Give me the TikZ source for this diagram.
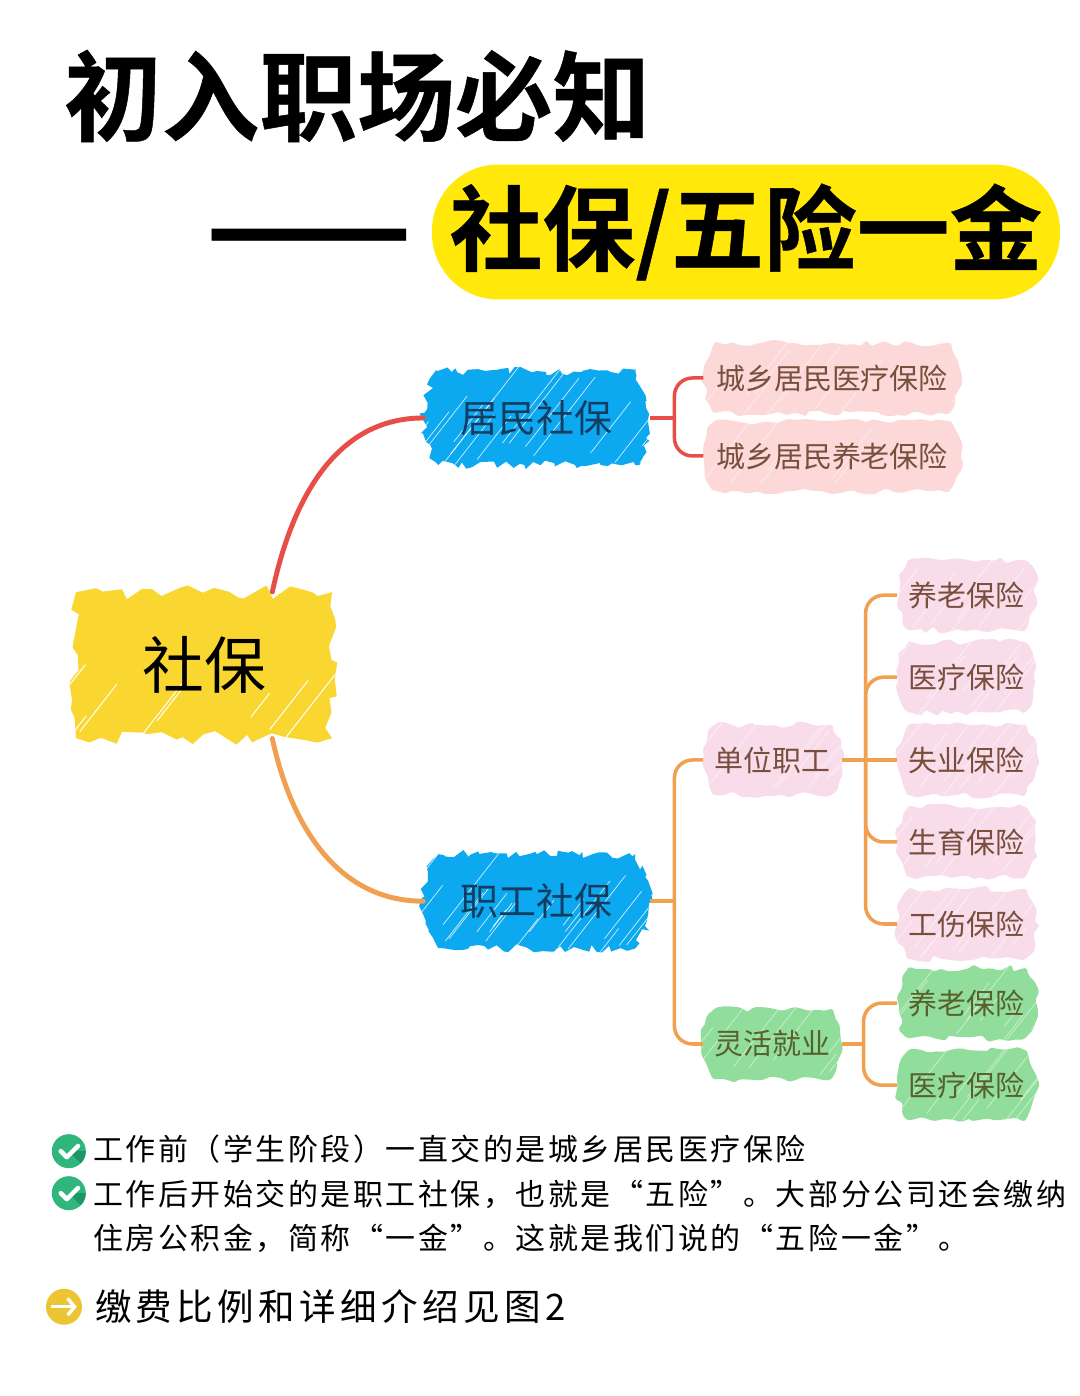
\documentclass[tikz,border=0pt]{standalone}
\usepackage{fontspec}
\setmainfont{Noto Sans CJK SC}
\newfontfamily\titlefont[FakeBold=0.5]{Noto Sans CJK SC Bold}
\newfontfamily\notefont[LetterSpace=8.6]{Noto Sans CJK SC}
\newfontfamily\seefont[LetterSpace=12]{Noto Sans CJK SC}
\definecolor{rootyellow}{RGB}{250, 214, 48}
\definecolor{pillyellow}{RGB}{255, 232, 10}
\definecolor{midblue}{RGB}{12, 168, 240}
\definecolor{rosepink}{RGB}{252, 216, 216}
\definecolor{lilacpink}{RGB}{249, 220, 234}
\definecolor{leafgreen}{RGB}{144, 221, 156}
\definecolor{linered}{RGB}{232, 78, 72}
\definecolor{lineorange}{RGB}{240, 160, 80}
\definecolor{midtext}{RGB}{18, 60, 96}
\definecolor{leaftext}{RGB}{120, 78, 60}
\definecolor{greentext}{RGB}{88, 96, 44}
\definecolor{tickgreen}{RGB}{46, 182, 124}
\definecolor{tickdark}{RGB}{28, 150, 100}
\definecolor{goyellow}{RGB}{236, 196, 52}
\usetikzlibrary{shapes, shapes.misc, arrows.meta, positioning, calc, decorations.pathmorphing}
\newcommand{\scribblehatch}[3]{%
  \foreach \i in {1,...,#1}{%
    \pgfmathsetmacro{\sx}{rnd*1.2-0.2}
    \pgfmathsetmacro{\sy}{rnd*0.7}
    \pgfmathsetmacro{\sl}{0.5+rnd*2.5}
    \draw[white, opacity=#3, line width=#2] ($(path picture bounding box.south west)!\sx!(path picture bounding box.south east)+(0,\sy)$) -- ++(52:\sl);
  }%
}
\tikzset{
  rootblob/.style={fill=rootyellow, minimum width=6.4cm, minimum height=3.65cm, decorate, decoration={random steps, segment length=0.3cm, amplitude=0.18cm}, path picture={\scribblehatch{8}{0.7pt}{1}}, font=\fontsize{44}{44}\selectfont},
  midblob/.style={rounded rectangle, rounded rectangle arc length=70, fill=midblue, minimum width=5.9cm, minimum height=2.35cm, decorate, decoration={random steps, segment length=0.14cm, amplitude=0.11cm}, path picture={\scribblehatch{20}{0.5pt}{0.8}}, text=midtext, font=\fontsize{27}{27}\selectfont},
  leafblob/.style={rounded rectangle, rounded rectangle arc length=70, fill=#1, minimum width=3.7cm, minimum height=1.75cm, rounded corners=1.5pt, decorate, decoration={random steps, segment length=0.2cm, amplitude=0.09cm}, path picture={\scribblehatch{10}{0.5pt}{0.55}}, text=leaftext, font=\fontsize{20.6}{21}\selectfont},
  wideblob/.style={leafblob=#1, minimum width=6.65cm},
  subblob/.style={leafblob=#1},
  curveline/.style={line width=3.5pt, line cap=round},
  branchline/.style={line width=2.5pt, rounded corners=0.45cm},
  tickdot/.style={circle, inner sep=0pt, minimum size=0.85cm, fill=tickgreen, path picture={
    \fill[tickdark] (path picture bounding box.center) -- ++(-45:0.6) -- ++(45:0.6) -- cycle;
    \draw[white, line width=3.2pt, line cap=round, line join=round] ($(path picture bounding box.center)+(-0.2,0)$) -- ++(0.15,-0.15) -- ++(0.28,0.28);}},
  godot/.style={circle, inner sep=0pt, minimum size=0.9cm, fill=goyellow, path picture={
    \draw[white, line width=2.4pt, -{Straight Barb[length=5pt, width=12pt]}] ($(path picture bounding box.center)+(-0.32,0)$) -- ++(0.64,0);}},
}

\begin{document}
\begin{tikzpicture}
  \pgfmathsetseed{42}
  \useasboundingbox (0, 0) rectangle (27, 34.9);
  \fill[white] (0, 0) rectangle (27, 34.9);

  % The title
  \node[inner sep=0pt, font=\fontsize{69.5}{70}\titlefont] (title) at (8.93, 32.5) {初入职场必知};
  \node[inner sep=0pt, font=\fontsize{86}{86}\titlefont] (dash) at (7.72, 28.67) {——};
  \node[fill=pillyellow, rounded corners=1.65cm, minimum width=15.7cm, minimum height=3.37cm, inner sep=0pt, font=\fontsize{66}{66}\titlefont] (pill) at (18.65, 29.1) {\raisebox{-0.18cm}{社保/五险一金}};

  % Blobs
  \node[rootblob] (shebao) at (5.1, 18.27) {社保};
  \node[midblob] (jumin) at (13.42, 24.45) {居民社保};
  \node[midblob] (zhigong) at (13.42, 12.37) {职工社保};

  \node[wideblob=rosepink] (jmyiliao) at (20.8, 25.45) {城乡居民医疗保险};
  \node[wideblob=rosepink] (jmyanglao) at (20.8, 23.5) {城乡居民养老保险};

  \node[subblob=lilacpink] (danwei) at (19.32, 15.9) {单位职工};
  \node[subblob=leafgreen, text=greentext] (linghuo) at (19.32, 8.8) {灵活就业};

  \node[subblob=lilacpink] (dwyanglao) at (24.17, 20.02) {养老保险};
  \node[subblob=lilacpink] (dwyiliao) at (24.17, 17.97) {医疗保险};
  \node[subblob=lilacpink] (dwshiye) at (24.17, 15.9) {失业保险};
  \node[subblob=lilacpink] (dwshengyu) at (24.17, 13.85) {生育保险};
  \node[subblob=lilacpink] (dwgongshang) at (24.17, 11.8) {工伤保险};
  \node[subblob=leafgreen, text=greentext] (lhyanglao) at (24.17, 9.82) {养老保险};
  \node[subblob=leafgreen, text=greentext] (lhyiliao) at (24.17, 7.77) {医疗保险};

  % Main curves
  \draw[curveline, linered] (shebao.47) to[out=78, in=180] (jumin.west);
  \draw[curveline, lineorange] (shebao.-47) to[out=-78, in=180] (zhigong.west);

  % Brackets
  \coordinate (busa) at ($(jumin.east)+(0.6,0)$);
  \draw[linered, line width=2.5pt] (jumin.east) -- (busa);
  \draw[branchline, linered] (busa) |- (jmyiliao.west);
  \draw[branchline, linered] (busa) |- (jmyanglao.west);

  \coordinate (busb) at ($(zhigong.east)+(0.6,0)$);
  \draw[lineorange, line width=2.5pt] (zhigong.east) -- (busb);
  \draw[branchline, lineorange] (busb) |- (danwei.west);
  \draw[branchline, lineorange] (busb) |- (linghuo.west);

  \coordinate (busc) at ($(danwei.east)+(0.58,0)$);
  \draw[lineorange, line width=2.5pt] (danwei.east) -- (dwshiye.west);
  \draw[branchline, lineorange] (busc) |- (dwyanglao.west);
  \draw[branchline, lineorange] (busc) |- (dwyiliao.west);
  \draw[branchline, lineorange] (busc) |- (dwshengyu.west);
  \draw[branchline, lineorange] (busc) |- (dwgongshang.west);

  \coordinate (busd) at ($(linghuo.east)+(0.53,0)$);
  \draw[lineorange, line width=2.5pt] (linghuo.east) -- (busd);
  \draw[branchline, lineorange] (busd) |- (lhyanglao.west);
  \draw[branchline, lineorange] (busd) |- (lhyiliao.west);

  % Notes
  \node[tickdot] (ticka) at (1.72, 6.12) {};
  \node[tickdot] (tickb) at (1.72, 5.07) {};
  \node[godot] (goa) at (1.6, 2.23) {};
  \node[anchor=west, inner sep=0pt, font=\fontsize{21.3}{22}\notefont] (notea) at (2.32, 6.17) {工作前（学生阶段）一直交的是城乡居民医疗保险};
  \node[anchor=west, inner sep=0pt, font=\fontsize{21.3}{22}\notefont] (noteb) at (2.32, 5.05) {工作后开始交的是职工社保，也就是“五险”。大部分公司还会缴纳};
  \node[anchor=west, inner sep=0pt, font=\fontsize{21.3}{22}\notefont] (notec) at (2.32, 3.93) {住房公积金，简称“一金”。这就是我们说的“五险一金”。};
  \node[anchor=west, inner sep=0pt, font=\fontsize{26}{27}\seefont] (see) at (2.37, 2.23) {缴费比例和详细介绍见图2};
\end{tikzpicture}
\end{document}
